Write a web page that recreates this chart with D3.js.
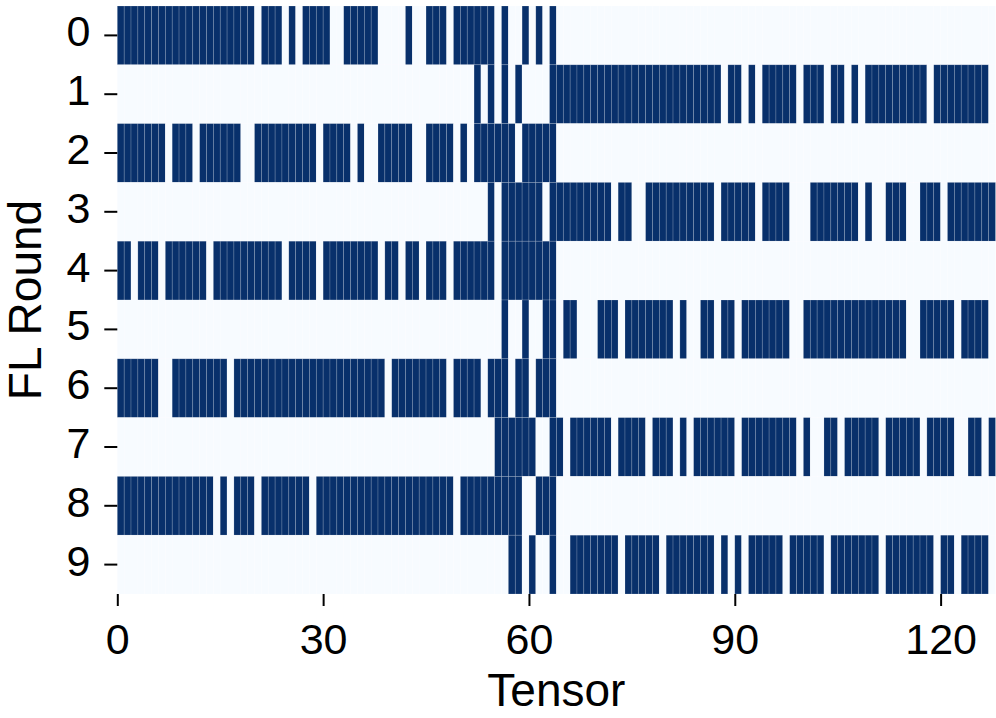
<!DOCTYPE html>
<html>
<head>
<meta charset="utf-8">
<script src="https://cdn.jsdelivr.net/npm/d3@7"></script>
<style>
    body { margin: 0; background: #fff; }
    text { font-family: "Liberation Sans", Arial, sans-serif; fill: #000; }
</style>
</head>
<body>
<div class="heatmap"></div>
<script>
// Selected tensors per FL round, as runs of [first, last] tensor index
var rounds = ["0", "1", "2", "3", "4", "5", "6", "7", "8", "9"];
var nTensors = 128;

var round0 = [[0,19],[21,23],[25,25],[27,30],[33,37],[42,42],[45,47],[49,54],[56,56],[59,59],[61,61],[63,63]];
var round1 = [[52,52],[54,54],[56,56],[58,58],[63,87],[89,90],[92,92],[94,98],[100,102],[104,105],[107,107],[109,117],[119,126]];
var round2 = [[0,6],[8,10],[12,17],[20,28],[30,33],[35,35],[38,42],[45,48],[50,50],[52,57],[59,63]];
var round3 = [[54,54],[56,61],[63,71],[73,74],[77,86],[88,92],[94,97],[101,107],[109,109],[112,114],[117,119],[121,127]];
var round4 = [[0,1],[3,5],[7,12],[14,23],[25,28],[30,37],[39,40],[42,43],[45,47],[49,54],[56,63]];
var round5 = [[56,56],[59,59],[62,63],[65,66],[70,72],[74,80],[82,82],[85,86],[88,89],[91,97],[100,114],[117,121],[123,126]];
var round6 = [[0,5],[8,15],[17,38],[40,47],[49,52],[54,56],[58,59],[61,63]];
var round7 = [[55,60],[63,64],[66,71],[73,76],[78,80],[82,82],[84,89],[91,98],[100,100],[103,104],[106,110],[112,116],[118,121],[124,125],[127,127]];
var round8 = [[0,13],[15,15],[17,19],[21,27],[29,48],[50,58],[61,63]];
var round9 = [[57,58],[60,60],[63,63],[66,72],[74,78],[80,86],[88,88],[90,90],[92,96],[98,102],[104,110],[112,118],[120,121],[123,126]];

var xTicks = [0, 30, 60, 90, 120];

var runs = [round0, round1, round2, round3, round4, round5, round6, round7, round8, round9];

// expand the runs into one cell per (round, tensor)
var cells = [];
runs.forEach(function (r, ri) {
    for (var t = 0; t < nTensors; t++) {
        var on = r.some(function (s) { return t >= s[0] && t <= s[1]; });
        cells.push({ round: rounds[ri], tensor: t, value: on ? 1 : 0 });
    }
});

var width = 996, height = 718;
var margin = { top: 6, right: 0.5, bottom: 124, left: 117.3 };

var svg = d3.select(".heatmap").append("svg")
    .attr("width", width)
    .attr("height", height);

var x = d3.scaleBand()
    .domain(d3.range(nTensors))
    .range([margin.left, width - margin.right])
    .padding(0);

var y = d3.scaleBand()
    .domain(rounds)
    .range([margin.top, height - margin.bottom])
    .padding(0);

// tick positions sit on the left edge of each tensor cell
var xLin = d3.scaleLinear()
    .domain([0, nTensors])
    .range([margin.left, width - margin.right]);

var color = d3.scaleSequential(d3.interpolateBlues).domain([0, 1]);

svg.append("g")
    .selectAll("rect")
    .data(cells)
    .enter().append("rect")
    .attr("x", function (d) { return x(d.tensor); })
    .attr("y", function (d) { return y(d.round); })
    .attr("width", x.bandwidth())
    .attr("height", y.bandwidth())
    .style("fill", function (d) { return color(d.value); })
    .style("stroke", "#ffffff")
    .style("stroke-opacity", 0.28)
    .style("stroke-width", 0.6);

// x axis
var xAxis = svg.append("g")
    .attr("transform", "translate(0," + (height - margin.bottom) + ")")
    .call(d3.axisBottom(xLin).tickValues(xTicks).tickSize(12).tickPadding(14));
xAxis.select(".domain").remove();
xAxis.selectAll(".tick line").attr("stroke", "#000").attr("stroke-width", 2);
xAxis.selectAll(".tick text")
    .attr("dy", null)
    .attr("y", 60)
    .style("font-size", "43px")
    .style("font-family", "'Liberation Sans', Arial, sans-serif");

// y axis
var yAxis = svg.append("g")
    .attr("transform", "translate(" + margin.left + ",0)")
    .call(d3.axisLeft(y).tickSize(13).tickPadding(14));
yAxis.select(".domain").remove();
yAxis.selectAll(".tick line").attr("stroke", "#000").attr("stroke-width", 2);
yAxis.selectAll(".tick text")
    .attr("dy", null)
    .attr("y", 11)
    .attr("x", -27)
    .style("font-size", "43px")
    .style("font-family", "'Liberation Sans', Arial, sans-serif");

// axis titles
svg.append("text")
    .attr("x", (margin.left + width - margin.right) / 2)
    .attr("y", 706)
    .attr("text-anchor", "middle")
    .style("font-size", "46px")
    .text("Tensor");

svg.append("text")
    .attr("transform", "translate(41," + ((margin.top + height - margin.bottom) / 2) + ") rotate(-90)")
    .attr("text-anchor", "middle")
    .style("font-size", "46px")
    .text("FL Round");
</script>
</body>
</html>
